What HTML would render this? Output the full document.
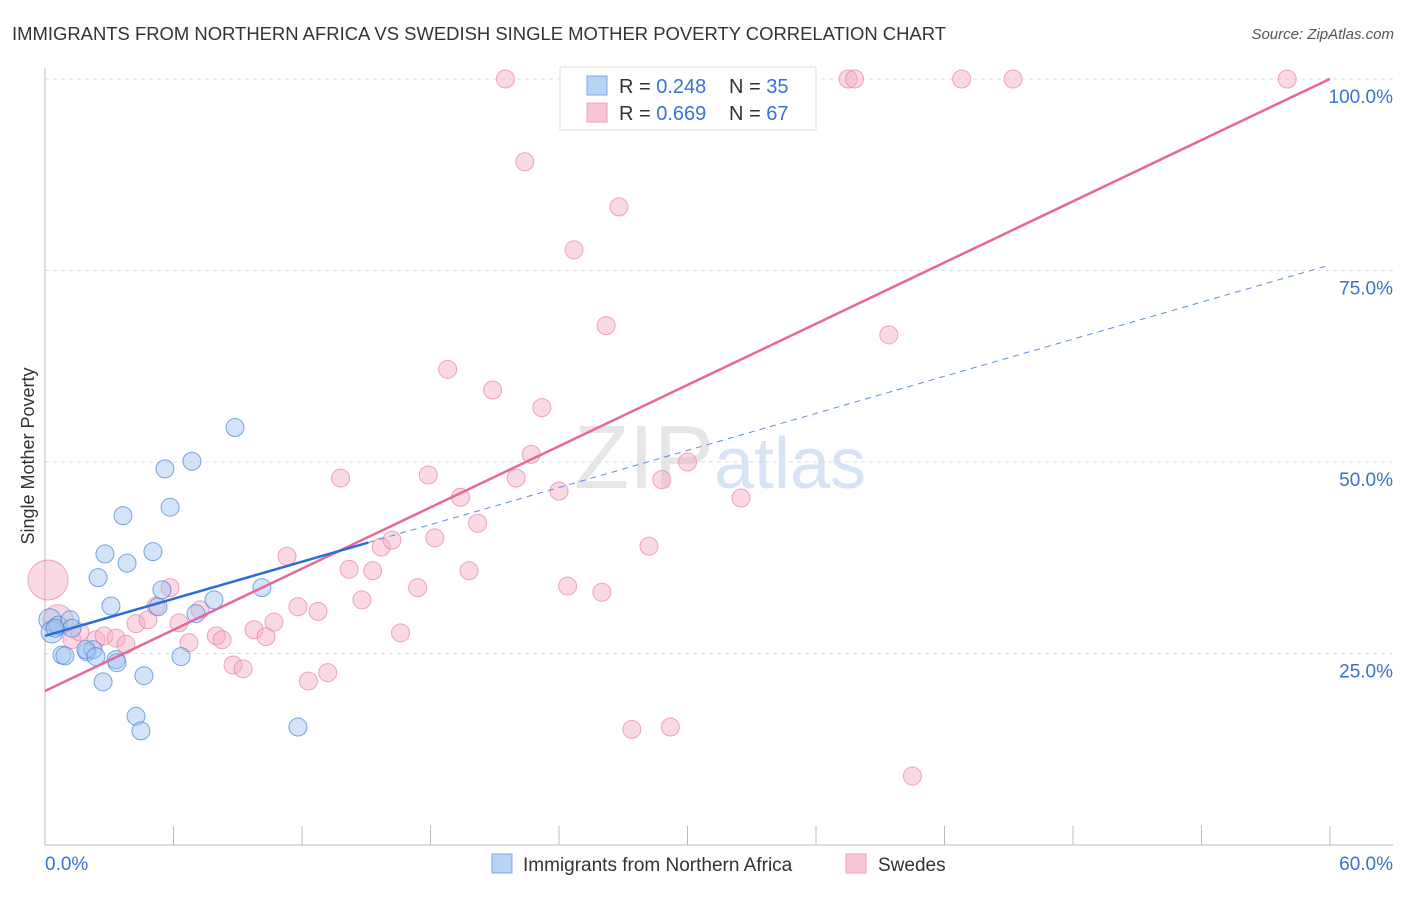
<!DOCTYPE html>
<html><head><meta charset="utf-8"><style>
body{margin:0;background:#fff;font-family:"Liberation Sans",sans-serif;}
svg text{font-family:"Liberation Sans",sans-serif;}
</style></head><body>
<svg id="c" width="1406" height="892" xmlns="http://www.w3.org/2000/svg">
<text x="12" y="40" font-size="18.6" fill="#333" textLength="934" lengthAdjust="spacingAndGlyphs">IMMIGRANTS FROM NORTHERN AFRICA VS SWEDISH SINGLE MOTHER POVERTY CORRELATION CHART</text>
<text x="1394" y="39" font-size="15" fill="#555" text-anchor="end" font-style="italic">Source: ZipAtlas.com</text>
<text x="720" y="488" font-size="90" text-anchor="middle" fill="#e6e6e6" font-family="Liberation Serif">ZIP<tspan fill="#d6e4f5" font-family="Liberation Sans" font-size="72">atlas</tspan></text>
<g id="grid"></g>
<g id="marks"></g>
<text transform="translate(34,456) rotate(-90)" font-size="18" fill="#333" text-anchor="middle">Single Mother Poverty</text>
<g>
<rect x="560" y="67" width="256" height="63" fill="#fff" stroke="#ddd"/>
<rect x="587" y="76" width="20" height="19" fill="#b9d3f5" stroke="#7fa9e6"/>
<rect x="587" y="103" width="20" height="19" fill="#f9c6d6" stroke="#eea3bb"/>
<text x="619" y="93" font-size="20" fill="#333">R = <tspan fill="#3a72d4">0.248</tspan></text>
<text x="729" y="93" font-size="20" fill="#333">N = <tspan fill="#3a72d4">35</tspan></text>
<text x="619" y="120" font-size="20" fill="#333">R = <tspan fill="#3a72d4">0.669</tspan></text>
<text x="729" y="120" font-size="20" fill="#333">N = <tspan fill="#3a72d4">67</tspan></text>
</g>
<g>
<rect x="492" y="854" width="20" height="19" fill="#b9d3f5" stroke="#7fa9e6"/>
<text x="523" y="871" font-size="19" fill="#333">Immigrants from Northern Africa</text>
<rect x="846" y="854" width="20" height="19" fill="#f9c6d6" stroke="#eea3bb"/>
<text x="878" y="871" font-size="19" fill="#333">Swedes</text>
</g>
</svg>
<script>
const yTicks=[25,50,75,100];
const yTickLabels=["25.0%","50.0%","75.0%","100.0%"];
const xEndLabels=["0.0%","60.0%"];
const blueX=[0.23,0.33,0.61,0.79,0.93,1.17,1.26,1.96,2.24,2.48,2.71,2.80,3.08,3.32,3.36,3.64,3.83,4.25,4.48,4.62,5.04,5.28,5.46,5.60,5.84,6.35,6.86,7.05,7.89,8.87,10.13,11.81,1.91,2.38,0.47];
const blueY=[29.4,27.8,28.7,24.8,24.7,29.4,28.3,25.2,25.5,34.9,21.3,38.0,31.2,24.2,23.8,43.0,36.8,16.8,14.9,22.1,38.3,31.1,33.3,49.1,44.1,24.6,50.1,30.2,32.0,54.5,33.6,15.4,25.5,24.6,28.3];
const pinkX=[0.14,0.61,1.26,1.63,2.38,2.76,3.32,3.78,4.25,4.81,5.18,5.84,6.26,6.72,7.24,8.0,8.27,8.78,9.25,9.76,10.32,10.69,11.3,11.81,12.3,12.75,13.2,13.8,14.2,14.8,15.3,15.7,16.2,16.6,17.4,17.9,18.2,18.8,19.4,19.8,20.2,20.9,21.5,22.0,22.4,22.7,23.2,24.0,24.4,24.7,26.0,26.2,26.8,27.4,28.2,28.8,29.2,30.0,31.1,32.5,37.5,37.8,39.4,40.5,42.8,45.2,58.0];
const pinkY=[34.6,29.4,26.8,27.8,26.8,27.3,27.0,26.2,28.9,29.4,31.2,33.6,29.0,26.4,30.7,27.3,26.8,23.5,23.0,28.1,27.2,29.1,37.7,31.1,21.4,30.5,22.5,47.9,36.0,32.0,35.8,38.9,39.8,27.7,33.6,48.3,40.1,62.1,45.4,35.8,42.0,59.4,100,47.9,89.2,51.0,57.1,46.2,33.8,77.7,33.0,67.8,83.3,15.1,39.0,47.7,15.4,50.0,100,45.3,100,100,66.6,9.0,100,100,100];
const blueTrend=[27.3,0.807,15.1];
const pinkTrend=[20.1,1.332];
const NS="http://www.w3.org/2000/svg";
const X=v=>45+v/60*1285, Y=v=>845-v/100*766;
function mk(t,a,p){const e=document.createElementNS(NS,t);for(const k in a)e.setAttribute(k,a[k]);p.appendChild(e);return e;}
const g=document.getElementById('grid'),m=document.getElementById('marks');
yTicks.forEach((t,i)=>{
 const l=mk('line',{x1:45,x2:1393,y1:Y(t),y2:Y(t),stroke:'#ddd','stroke-dasharray':'4,4'},g);
 
 
 const tx=mk('text',{x:1393,y:Y(t)+24,'font-size':19,fill:'#3a72d4','text-anchor':'end'},g);
 tx.textContent=yTickLabels[i];
 
 
});
const ax=mk('line',{x1:45,x2:1393,y1:845,y2:845,stroke:'#bbb'},g);


const ay=mk('line',{x1:45,x2:45,y1:68,y2:845,stroke:'#bbb'},g);


for(let v=6;v<=60;v+=6){const t=mk('line',{x1:X(v),x2:X(v),y1:826,y2:845,stroke:'#bbb'},g);
 
 }
xEndLabels.forEach((s,i)=>{const t=mk('text',{x:i?1393:45,y:870,'font-size':19,fill:'#3a72d4','text-anchor':i?'end':'start'},g);t.textContent=s;
 
 });
pinkX.forEach((x,i)=>{const r=i==0?20:(i==1?15:9);const c=mk('circle',{cx:X(x),cy:Y(pinkY[i]),r:r,fill:'rgba(246,170,195,0.45)',stroke:'rgba(232,130,165,0.7)','stroke-width':1},m);
 
 });
blueX.forEach((x,i)=>{const c=mk('circle',{cx:X(x),cy:Y(blueY[i]),r:i<2?11:9,fill:'rgba(160,195,240,0.45)',stroke:'rgba(70,130,215,0.7)','stroke-width':1},m);
 
 });
const pl=mk('line',{x1:X(0),y1:Y(pinkTrend[0]),x2:X(60),y2:Y(pinkTrend[0]+pinkTrend[1]*60),stroke:'#e8679a','stroke-width':2.5},m);


const bl=mk('line',{x1:X(0),y1:Y(blueTrend[0]),x2:X(blueTrend[2]),y2:Y(blueTrend[0]+blueTrend[1]*blueTrend[2]),stroke:'#2a6fd6','stroke-width':2.5},m);


const bd=mk('line',{x1:X(blueTrend[2]),y1:Y(blueTrend[0]+blueTrend[1]*blueTrend[2]),x2:X(60),y2:Y(blueTrend[0]+blueTrend[1]*60),stroke:'#5b8fdc','stroke-width':1,'stroke-dasharray':'6,5'},m);


</script>
</body></html>
